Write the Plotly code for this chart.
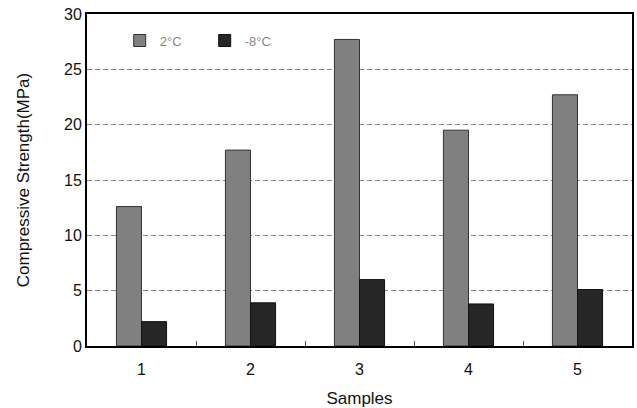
import plotly.graph_objects as go

samples = ["1", "2", "3", "4", "5"]
warm_2c = [12.6, 17.7, 27.7, 19.5, 22.7]
cold_m8c = [2.2, 3.9, 6.0, 3.8, 5.1]
series_names = ["2°C", "-8°C"]
y_ticks = [0, 5, 10, 15, 20, 25, 30]

fig = go.Figure()
fig.add_trace(go.Bar(x=samples, y=warm_2c, name=series_names[0],
                     marker=dict(color="#808080", line=dict(color="#333333", width=1))))
fig.add_trace(go.Bar(x=samples, y=cold_m8c, name=series_names[1],
                     marker=dict(color="#262626", line=dict(color="#111111", width=1))))

fig.update_layout(
    width=637, height=408,
    margin=dict(l=87, r=5, t=14, b=62),
    paper_bgcolor="white", plot_bgcolor="white",
    barmode="group", bargap=0.54, bargroupgap=0,
    font=dict(family="Liberation Sans, Arial", color="#111111"),
    legend=dict(orientation="h", x=0.06, y=0.92, xanchor="left", yanchor="middle",
                font=dict(size=13, color="#888888"), bgcolor="rgba(0,0,0,0)",
                entrywidth=40, entrywidthmode="pixels", itemwidth=30),
    xaxis=dict(
        type="category", tickson="boundaries", ticks="inside", ticklen=5, tickcolor="#555555",
        showline=True, linecolor="black", linewidth=2, mirror=True, automargin=False,
        showgrid=False, tickfont=dict(size=16), ticklabelstandoff=8,
        title=dict(text="Samples", font=dict(size=17), standoff=16),
    ),
    yaxis=dict(
        range=[0, 30], tickvals=y_ticks, ticks="", showline=True, linecolor="black",
        linewidth=2, mirror=True, showgrid=True, gridcolor="#8a8a8a", griddash="5px,3px",
        gridwidth=1, zeroline=False, tickfont=dict(size=16), automargin=False,
        title=dict(text="Compressive Strength(MPa)", font=dict(size=17), standoff=30),
    ),
)

fig.write_html("out.html")
